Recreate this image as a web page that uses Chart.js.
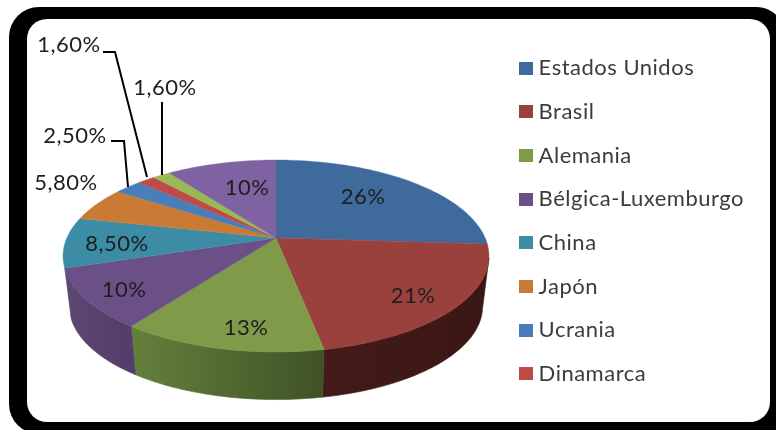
<!DOCTYPE html>
<html><head><meta charset="utf-8">
<style>
html,body{margin:0;padding:0;background:#fff;width:776px;height:430px;overflow:hidden}
#outer{position:absolute;left:9px;top:7px;width:777px;height:427px;background:#000;border-radius:30px 30px 8px 30px}
#inner{position:absolute;left:27px;top:19px;width:743px;height:403px;background:#fff;border-radius:20px}
#wrap{position:absolute;left:0;top:0;width:776px;height:430px;filter:blur(0.6px)}
</style>
<script src="https://cdn.jsdelivr.net/npm/chart.js@4"></script>
</head><body>
<div id="outer"></div><div id="inner"></div>
<div id="wrap"><canvas id="c" width="776" height="430"></canvas></div>
<script>
const categories = ["Estados Unidos","Brasil","Alemania","Bélgica-Luxemburgo","China","Japón","Ucrania","Dinamarca","Otros A","Otros B"];
const shares = [26,21,13,10,8.5,5.8,2.5,1.6,1.6,10];
const sliceColors = ["#3f6a9c","#9a403d","#7f9a48","#6a5086","#3c8ca6","#c97a35","#4a7ebb","#be4b48","#98b954","#7e62a1"];
const wallLeft = ["#2c4a6e","#441b18","#64803c","#5c4872","#2f6f85","#8c5524","#35587f","#84342f","#6b823a","#58446f"];
const wallRight = ["#2c4a6e","#3a1714","#3f5226","#523e69","#2f6f85","#8c5524","#35587f","#84342f","#6b823a","#58446f"];
const visibleLegendEntries = 8;
const labelPlaces = [[363,197],[413,296],[246,328],[124,290],[117,244],[66,183],[75,136],[69,45],[165,88],[247,188]];
const leaders = [null,null,null,null,null,null,[[111,141],[124,141],[128,187]],[[103,52],[115,52],[147,177]],[[162,102],[162,175]],null];

const geo = {cx:276, cy:238, R:209.2, Ry:92.6, k:-0.1875, wallScale:0.97, wallDrop:51,
             wallFrom:12*Math.PI/180, wallTo:162*Math.PI/180};
function proj(a, r, s, dy){
  const u = Math.cos(a)*r, v = Math.sin(a)*r, w = 1 + geo.k*v;
  return [geo.cx + s*geo.R*u/w, geo.cy + dy + s*geo.Ry*v/w];
}
function fmt(v){ return Number.isInteger(v) ? v+"%" : v.toFixed(2).replace(".",",")+"%"; }
function swatch(color){
  const c = document.createElement("canvas");
  c.width = 14; c.height = 13;
  const x = c.getContext("2d"); x.fillStyle = color; x.fillRect(0,0,14,13);
  return c;
}

const pie3d = {
  id:"pie3d",
  beforeLayout(chart){ chart.ctx.letterSpacing = "0.5px"; },
  beforeDraw(chart){ chart.ctx.letterSpacing = "0.5px"; },
  beforeDatasetsDraw(chart){
    const ctx = chart.ctx, arcs = chart.getDatasetMeta(0).data, step = Math.PI/180;
    ctx.save();
    arcs.forEach((a,i)=>{
      const from = Math.max(a.startAngle, geo.wallFrom), to = Math.min(a.endAngle, geo.wallTo);
      if(from >= to) return;
      const pts=[], low=[];
      for(let t=from;;t+=step){
        const e=Math.min(t,to);
        pts.push(proj(e,1,1,0)); low.push(proj(e,1,geo.wallScale,geo.wallDrop));
        if(t>=to)break;
      }
      const g = ctx.createLinearGradient(Math.min(pts[0][0],pts[pts.length-1][0]),0,Math.max(pts[0][0],pts[pts.length-1][0]),0);
      g.addColorStop(0,wallLeft[i]); g.addColorStop(1,wallRight[i]);
      ctx.beginPath();
      pts.forEach((p,j)=>j?ctx.lineTo(p[0],p[1]):ctx.moveTo(p[0],p[1]));
      low.reverse().forEach(p=>ctx.lineTo(p[0],p[1]));
      ctx.closePath(); ctx.fillStyle=g; ctx.fill();
      ctx.strokeStyle=g; ctx.lineWidth=0.6; ctx.stroke();
    });
    arcs.forEach((a,i)=>{
      ctx.beginPath();
      ctx.moveTo(geo.cx,geo.cy);
      for(let t=a.startAngle;;t+=step){
        const e=Math.min(t,a.endAngle), p=proj(e,1,1,0);
        ctx.lineTo(p[0],p[1]);
        if(t>=a.endAngle)break;
      }
      ctx.closePath();
      ctx.fillStyle=sliceColors[i]; ctx.fill();
      ctx.strokeStyle=sliceColors[i]; ctx.lineWidth=0.4; ctx.stroke();
    });
    ctx.strokeStyle="#000"; ctx.lineWidth=2; ctx.lineJoin="miter";
    leaders.forEach(l=>{ if(!l)return;
      ctx.beginPath();
      l.forEach((p,j)=>j?ctx.lineTo(p[0],p[1]):ctx.moveTo(p[0],p[1]));
      ctx.stroke();
    });
    ctx.font='22px Lato'; ctx.fillStyle="#1e1e1e"; ctx.textAlign="center"; ctx.textBaseline="middle";
    shares.forEach((v,i)=>ctx.fillText(fmt(v),labelPlaces[i][0],labelPlaces[i][1]));
    ctx.restore();
    return false;
  }
};

new Chart(document.getElementById("c"),{
  type:"pie",
  data:{labels:categories,datasets:[{data:shares,backgroundColor:sliceColors,borderWidth:0}]},
  plugins:[pie3d],
  options:{
    responsive:false,animation:false,
    layout:{padding:{top:12,right:22,bottom:0,left:0}},
    plugins:{
      tooltip:{enabled:false},
      legend:{
        position:"right",
        labels:{
          color:"#3c3c3c",font:{family:"Lato",size:22},
          usePointStyle:true,pointStyleWidth:4,boxHeight:13,padding:21.7,
          generateLabels:(chart)=>Chart.overrides.pie.plugins.legend.labels.generateLabels(chart)
            .slice(0,visibleLegendEntries)
            .map((item,i)=>({...item,pointStyle:swatch(sliceColors[i])}))
        }
      }
    }
  }
});
</script>
</body></html>
